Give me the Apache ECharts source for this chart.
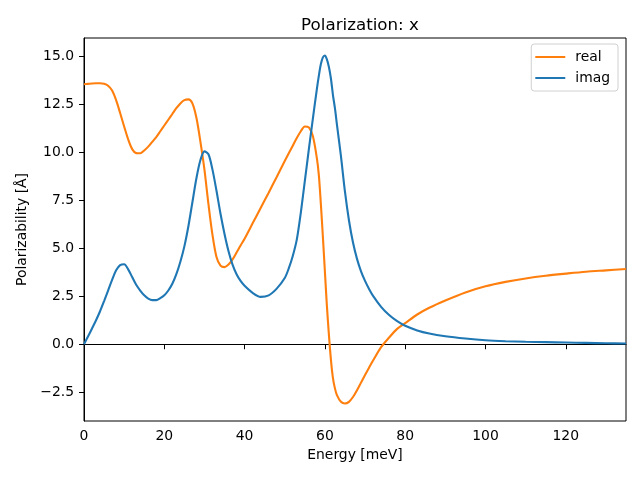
<!DOCTYPE html>
<html>
<head>
<meta charset="utf-8">
<script src="https://cdn.jsdelivr.net/npm/echarts@6/dist/echarts.min.js"></script>
<style>html,body{margin:0;padding:0;background:#fff}#c{width:640px;height:480px}</style>
</head>
<body>
<div id="c"></div>
<script>
const energy = [0,1,2,3,4,5,6,7,8,9,10,11,12,13,14,15,16,17,18,19,20,21,22,23,24,25,26,27,28,29,30,31,32,33,34,35,36,37,38,39,40,42,44,46,48,50,51,52,53,54,55,56,57,58,58.5,59,59.5,60,60.5,61,61.5,62,62.5,63,64,65,66,67,68,69,70,71,72,74,76,78,80,83,86,90,95,100,105,110,115,120,125,130,135];
const realPart = [13.55,13.57,13.59,13.6,13.6,13.57,13.47,13.22,12.72,12.05,11.35,10.68,10.17,9.96,9.95,10.1,10.3,10.55,10.8,11.1,11.4,11.7,12.0,12.3,12.55,12.72,12.76,12.55,11.8,10.55,9.1,7.3,5.7,4.55,4.1,4.02,4.15,4.42,4.78,5.15,5.5,6.3,7.1,7.9,8.72,9.55,9.95,10.35,10.75,11.1,11.35,11.3,10.85,9.7,8.8,7.3,5.6,3.8,2.0,0.5,-0.8,-1.75,-2.3,-2.65,-3.0,-3.09,-3.0,-2.75,-2.4,-2.0,-1.6,-1.22,-0.85,-0.15,0.35,0.8,1.1,1.55,1.9,2.28,2.7,3.02,3.25,3.43,3.57,3.68,3.78,3.85,3.92];
const imagPart = [0,0.4,0.82,1.25,1.72,2.25,2.8,3.35,3.85,4.12,4.17,3.9,3.5,3.1,2.8,2.55,2.38,2.3,2.3,2.4,2.55,2.8,3.15,3.65,4.3,5.1,6.15,7.4,8.65,9.6,10.05,9.9,9.1,8.0,6.8,5.75,4.85,4.15,3.65,3.3,3.05,2.68,2.47,2.55,2.9,3.45,3.95,4.6,5.45,6.85,8.5,10.15,11.75,13.3,14.0,14.6,14.95,15.05,14.85,14.45,13.85,13.0,12.3,11.45,9.8,7.95,6.45,5.3,4.45,3.8,3.3,2.88,2.52,1.95,1.52,1.2,0.96,0.72,0.56,0.42,0.3,0.21,0.16,0.13,0.11,0.09,0.07,0.05,0.04];
const xTicks = [0,20,40,60,80,100,120];
const yTicks = [-2.5,0,2.5,5,7.5,10,12.5,15];
const seriesNames = ['real','imag'];
const titleText = 'Polarization: x';
const xName = 'Energy [meV]';
const yName = 'Polarizability [Å]';

const chart = echarts.init(document.getElementById('c'), null, {renderer:'canvas'});
const font = 'DejaVu Sans';
const pairs = v => energy.map((x,i)=>[x,v[i]]);
chart.setOption({
  animation:false,
  backgroundColor:'#fff',
  textStyle:{fontFamily:font},
  title:{text:titleText,left:355,top:12,textAlign:'center',
    textStyle:{fontFamily:font,fontSize:16.7,fontWeight:'normal',color:'#000'}},
  legend:{data:seriesNames,orient:'vertical',right:22,top:44,
    backgroundColor:'#fff',borderColor:'#d0d0d0',borderWidth:1,borderRadius:3,
    padding:[6,8,6,4],itemGap:7,itemWidth:30,itemHeight:2,icon:'rect',
    textStyle:{fontFamily:font,fontSize:13.9,color:'#000',padding:[0,0,0,5]}},
  grid:{left:84,right:14,top:38,bottom:59,show:true,borderColor:'#000',borderWidth:1,backgroundColor:'transparent'},
  xAxis:{type:'value',min:0,max:135,
    name:xName,nameLocation:'middle',nameGap:27,
    nameTextStyle:{fontFamily:font,fontSize:13.9,color:'#000'},
    axisLine:{show:true,lineStyle:{color:'#000',width:1}},
    axisTick:{show:true,length:5,inside:false,customValues:xTicks,lineStyle:{color:'#000'}},
    axisLabel:{customValues:xTicks,margin:8,fontFamily:font,fontSize:13.9,color:'#000',
      formatter:v=>String(v)},
    splitLine:{show:false}},
  yAxis:{type:'value',min:-4.0,max:15.96,
    name:yName,nameLocation:'middle',nameGap:46,
    nameTextStyle:{fontFamily:font,fontSize:13.9,color:'#000'},
    axisLine:{show:true,lineStyle:{color:'#000',width:1}},
    axisTick:{show:true,length:5,inside:false,customValues:yTicks,lineStyle:{color:'#000'}},
    axisLabel:{customValues:yTicks,margin:10,fontFamily:font,fontSize:13.9,color:'#000',
      formatter:v=>(v<0?'\u2212':'')+Math.abs(v).toFixed(1)},
    splitLine:{show:false}},
  series:[
    {name:seriesNames[0],type:'line',data:pairs(realPart),showSymbol:false,symbol:'none',smooth:0.3,
      color:'#ff7f0e',lineStyle:{color:'#ff7f0e',width:2.1}},
    {name:seriesNames[1],type:'line',data:pairs(imagPart),showSymbol:false,symbol:'none',smooth:0.3,
      color:'#1f77b4',lineStyle:{color:'#1f77b4',width:2.1}}
  ]
});
</script>
</body>
</html>
